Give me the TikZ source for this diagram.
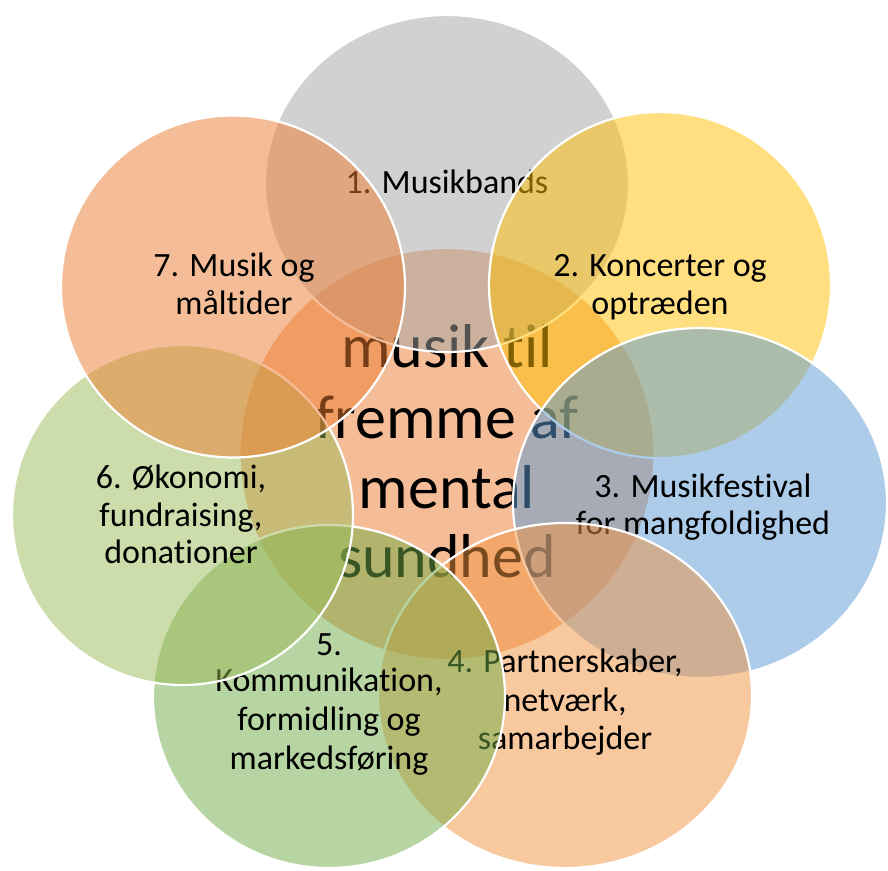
\documentclass[tikz,border=0pt]{standalone}
\usepackage{fontspec}
\setmainfont{Carlito}[Ligatures=NoCommon]
\definecolor{cCenter}{RGB}{237,125,49}
\definecolor{cOne}{RGB}{165,165,165}
\definecolor{cTwo}{RGB}{255,192,0}
\definecolor{cThree}{RGB}{91,155,213}
\definecolor{cFour}{RGB}{243,147,65}
\definecolor{cFive}{RGB}{112,173,71}
\definecolor{cSix}{RGB}{155,187,89}
\definecolor{cSeven}{RGB}{237,125,49}
\tikzset{
  blob/.style={fill=#1, fill opacity=0.5, draw=white, draw opacity=1, line width=2.2pt},
  lbl/.style={anchor=base, inner sep=0pt, text=black, font=\fontsize{34}{38}\selectfont},
  biglbl/.style={anchor=base, inner sep=0pt, text=black, font=\fontsize{62}{70}\selectfont},
}
\begin{document}
\begin{tikzpicture}[x=1pt,y=-1pt]
\clip (0,0) rectangle (888,870);
\fill[white] (0,0) rectangle (888,870);
% centre
\draw[blob=cCenter] (447,454) ellipse [x radius=207.5, y radius=206];
\node[biglbl] (m1) at (447,367) {musik til};
\node[biglbl] (m2) at (447,438) {fremme af};
\node[biglbl] (m3) at (447,508) {mental};
\node[biglbl] (m4) at (447,577) {sundhed};
% 1
\draw[blob=cOne] (447,183.5) ellipse [x radius=182, y radius=168.5];
\node[lbl] (a1) at (447,193) {1. Musikbands};
% 2
\draw[blob=cTwo] (660,285) ellipse [x radius=171, y radius=173];
\node[lbl] (b1) at (660,276) {2. Koncerter og};
\node[lbl] (b2) at (660,314) {optræden};
% 3
\draw[blob=cThree] (700,503) ellipse [x radius=187, y radius=175];
\node[lbl] (c1) at (703,497) {3. Musikfestival};
\node[lbl] (c2) at (703,534) {for mangfoldighed};
% 4
\draw[blob=cFour] (565,695.5) ellipse [x radius=187, y radius=172.5];
\node[lbl] (d1) at (565,672) {4. Partnerskaber,};
\node[lbl] (d2) at (565,711) {netværk,};
\node[lbl] (d3) at (565,749) {samarbejder};
% 5
\draw[blob=cFive] (329,696.5) ellipse [x radius=176, y radius=171.5];
\node[lbl] (e1) at (329,655) {5.};
\node[lbl] (e2) at (329,691) {Kommunikation,};
\node[lbl] (e3) at (329,730) {formidling og};
\node[lbl] (e4) at (329,769) {markedsføring};
% 6
\draw[blob=cSix] (182.5,515) ellipse [x radius=170.5, y radius=170];
\node[lbl] (f1) at (181,488) {6. Økonomi,};
\node[lbl] (f2) at (181,526) {fundraising,};
\node[lbl] (f3) at (181,563) {donationer};
% 7
\draw[blob=cSeven] (233,286.5) ellipse [x radius=172, y radius=171];
\node[lbl] (g1) at (234,276) {7. Musik og};
\node[lbl] (g2) at (234,314) {måltider};
\end{tikzpicture}
\end{document}
